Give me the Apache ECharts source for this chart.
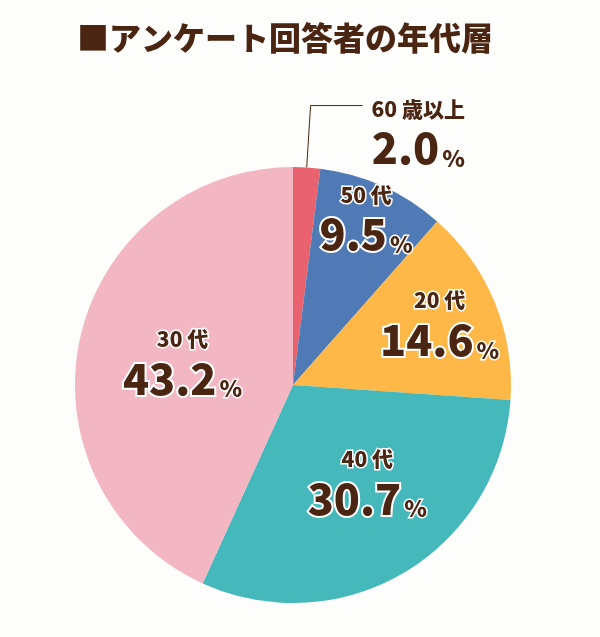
<!DOCTYPE html>
<html><head><meta charset="utf-8">
<script src="https://cdn.jsdelivr.net/npm/echarts@6/dist/echarts.min.js"></script>
<style>html,body{margin:0;padding:0;background:#fdfdfb;}#c{width:600px;height:637px;}</style>
</head><body><div id="c"></div>
<script>
const titleText = '■アンケート回答者の年代層';
const categories = ['60 歳以上', '50 代', '20 代', '40 代', '30 代'];
const values = [2.0, 9.5, 14.6, 30.7, 43.2];
const colors = ['#e8636f', '#4f7ab6', '#fdb848', '#45b8bb', '#f2b7c3'];
// label nudges (px) from the default inside position
const labelNudge = [[0, 0], [27, -66], [43, -20], [17, 0], [-1, 0]];

const brown = '#4a2511';
const FONT = '"Noto Sans CJK JP", "Liberation Sans", sans-serif';
const rich = {
  n: {fontSize: 21, fontWeight: 900, color: brown, fontFamily: FONT, lineHeight: 34,
      textBorderColor: '#fff', textBorderWidth: 3, align: 'center'},
  v: {fontSize: 43, fontWeight: 900, color: brown, fontFamily: FONT, lineHeight: 44,
      textBorderColor: '#fff', textBorderWidth: 4, align: 'center'},
  p: {fontSize: 23, fontWeight: 900, color: brown, fontFamily: FONT, lineHeight: 44,
      textBorderColor: '#fff', textBorderWidth: 3, padding: [0, 0, 0, 3], verticalAlign: 'bottom'}
};

const data = categories.map((name, i) => {
  const item = {name, value: values[i], itemStyle: {color: colors[i]}};
  if (i === 0) {
    item.label = {position: 'outside', padding: [50, 0, 0, 4], rich: Object.assign({}, rich, {
      n: Object.assign({}, rich.n, {textBorderWidth: 0}),
      v: Object.assign({}, rich.v, {textBorderWidth: 0}),
      p: Object.assign({}, rich.p, {textBorderWidth: 0})
    })};
    item.labelLine = {show: true, length: 62, length2: 52, lineStyle: {color: brown, width: 1}};
  }
  return item;
});

const chart = echarts.init(document.getElementById('c'), null, {renderer: 'canvas'});
chart.setOption({
  backgroundColor: '#fdfdfb',
  animation: false,
  title: {
    text: titleText, left: 72, top: 17,
    textStyle: {fontSize: 32, fontWeight: 900, color: brown, fontFamily: FONT}
  },
  series: [{
    type: 'pie',
    center: [293, 385],
    radius: 218,
    startAngle: 90,
    clockwise: true,
    avoidLabelOverlap: false,
    data: data,
    itemStyle: {borderWidth: 0},
    label: {
      show: true,
      position: 'inside',
      formatter: p => '{n|' + p.name + '}\n{v|' + p.value.toFixed(1) + '}{p|%}',
      rich: rich
    },
    labelLine: {show: false},
    labelLayout: function (params) {
      const d = labelNudge[params.dataIndex];
      if (params.dataIndex === 0) return {};
      return {dx: d[0], dy: d[1]};
    }
  }]
});
</script></body></html>
